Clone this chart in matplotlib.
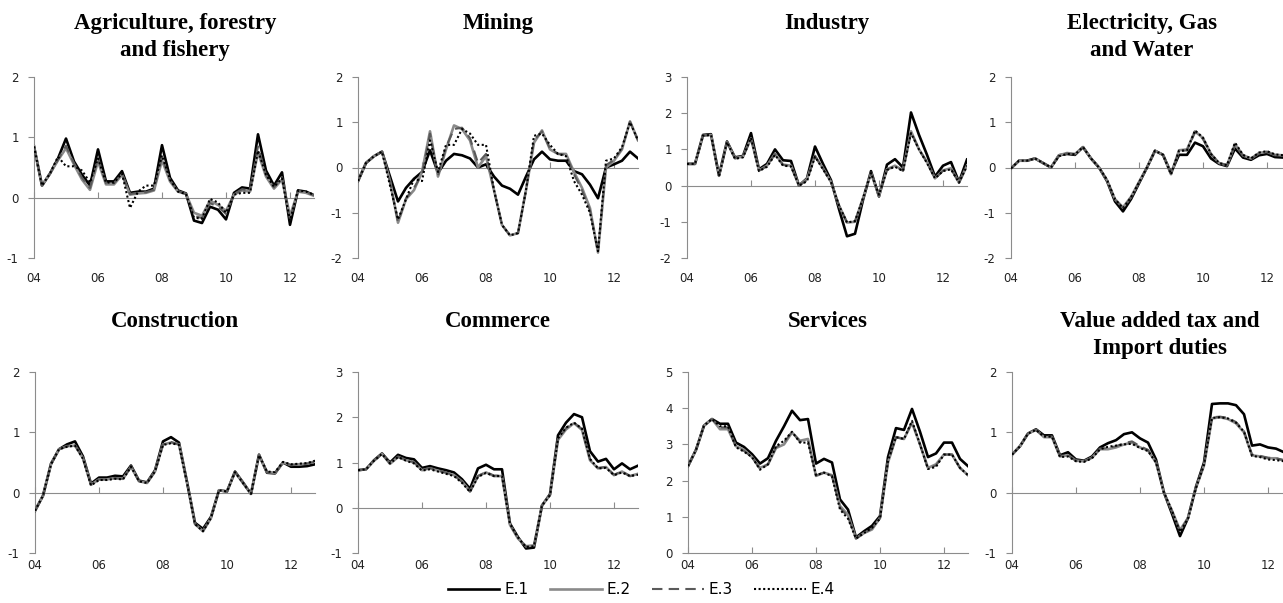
# -*- coding: utf-8 -*-

import numpy as np
import matplotlib
matplotlib.use("Agg")
import matplotlib.pyplot as plt

plt.rcParams['axes.unicode_minus'] = False

# quarterly data 2004Q1 .. 2012Q4
quarters = np.arange(36)
tick_pos = [0, 8, 16, 24, 32]
tick_labels = ['04', '06', '08', '10', '12']
series_names = ['E.1', 'E.2', 'E.3', 'E.4']

agri_e1 = [0.85, 0.20, 0.40, 0.65, 0.98, 0.60, 0.38, 0.20, 0.80, 0.27, 0.27, 0.44, 0.08, 0.10, 0.10, 0.15, 0.87, 0.33,
           0.12, 0.07, -0.38, -0.42, -0.15, -0.20, -0.36, 0.08, 0.17, 0.15, 1.05, 0.45, 0.20, 0.42, -0.45, 0.12, 0.10, 0.04]
agri_e2 = [0.85, 0.20, 0.40, 0.62, 0.82, 0.55, 0.30, 0.13, 0.60, 0.22, 0.22, 0.38, 0.05, 0.07, 0.08, 0.12, 0.62, 0.27,
           0.10, 0.06, -0.25, -0.30, -0.05, -0.12, -0.22, 0.05, 0.12, 0.10, 0.75, 0.35, 0.15, 0.30, -0.30, 0.10, 0.08, 0.03]
agri_e3 = [0.85, 0.20, 0.40, 0.63, 0.86, 0.57, 0.33, 0.16, 0.66, 0.24, 0.24, 0.40, 0.06, 0.08, 0.09, 0.13, 0.68, 0.29,
           0.11, 0.06, -0.30, -0.34, -0.09, -0.15, -0.27, 0.06, 0.14, 0.12, 0.85, 0.38, 0.17, 0.34, -0.36, 0.11, 0.09, 0.04]
agri_e4 = [0.85, 0.20, 0.40, 0.68, 0.52, 0.52, 0.45, 0.25, 0.65, 0.25, 0.25, 0.40, -0.17, 0.10, 0.20, 0.20, 0.70, 0.30,
           0.10, 0.06, -0.33, -0.35, -0.02, -0.08, -0.25, 0.05, 0.08, 0.08, 0.78, 0.38, 0.18, 0.32, -0.38, 0.12, 0.10, 0.05]

mining_e1 = [-0.30, 0.10, 0.25, 0.35, -0.20, -0.75, -0.45, -0.25, -0.10, 0.38, -0.12, 0.15, 0.30, 0.27, 0.20, 0.00, 0.07, -0.20,
             -0.40, -0.47, -0.60, -0.20, 0.18, 0.35, 0.18, 0.15, 0.15, -0.08, -0.15, -0.38, -0.68, 0.00, 0.07, 0.15, 0.35, 0.20]
mining_e2 = [-0.30, 0.10, 0.25, 0.35, -0.30, -1.22, -0.70, -0.50, -0.10, 0.80, -0.20, 0.40, 0.93, 0.85, 0.60, 0.00, 0.25, -0.50,
             -1.27, -1.50, -1.45, -0.50, 0.55, 0.82, 0.40, 0.30, 0.30, -0.10, -0.45, -0.90, -1.88, 0.00, 0.15, 0.40, 1.02, 0.60]
mining_e3 = [-0.30, 0.10, 0.25, 0.35, -0.32, -1.20, -0.68, -0.45, -0.15, 0.75, -0.18, 0.45, 0.85, 0.88, 0.65, 0.10, 0.30, -0.50,
             -1.27, -1.50, -1.45, -0.50, 0.60, 0.80, 0.42, 0.30, 0.28, -0.15, -0.50, -0.95, -1.87, 0.05, 0.17, 0.42, 1.01, 0.60]
mining_e4 = [-0.30, 0.10, 0.25, 0.35, -0.40, -1.15, -0.70, -0.25, -0.30, 0.60, -0.10, 0.50, 0.50, 0.85, 0.75, 0.50, 0.50, -0.50,
             -1.27, -1.50, -1.45, -0.50, 0.70, 0.75, 0.50, 0.30, 0.25, -0.30, -0.60, -1.00, -1.85, 0.15, 0.20, 0.45, 1.00, 0.60]

industry_e1 = [0.60, 0.60, 1.40, 1.42, 0.28, 1.22, 0.78, 0.82, 1.45, 0.45, 0.60, 1.00, 0.70, 0.68, 0.00, 0.20, 1.08, 0.60,
               0.15, -0.65, -1.40, -1.33, -0.40, 0.40, -0.30, 0.58, 0.73, 0.50, 2.02, 1.40, 0.85, 0.25, 0.55, 0.65, 0.10, 0.72]
industry_e2 = [0.60, 0.60, 1.38, 1.40, 0.27, 1.20, 0.76, 0.80, 1.30, 0.42, 0.55, 0.88, 0.58, 0.55, 0.00, 0.18, 0.82, 0.48,
               0.10, -0.55, -1.02, -1.00, -0.35, 0.35, -0.28, 0.45, 0.55, 0.42, 1.50, 1.00, 0.65, 0.20, 0.42, 0.48, 0.08, 0.55]
industry_e3 = [0.60, 0.60, 1.38, 1.40, 0.27, 1.20, 0.75, 0.79, 1.31, 0.41, 0.54, 0.87, 0.57, 0.54, 0.00, 0.15, 0.81, 0.47,
               0.10, -0.55, -1.02, -0.99, -0.35, 0.35, -0.27, 0.44, 0.54, 0.41, 1.48, 1.00, 0.64, 0.20, 0.41, 0.47, 0.08, 0.55]
industry_e4 = [0.60, 0.60, 1.38, 1.40, 0.27, 1.20, 0.74, 0.78, 1.32, 0.40, 0.52, 0.85, 0.55, 0.53, 0.00, 0.12, 0.80, 0.45,
               0.10, -0.55, -1.02, -0.98, -0.35, 0.35, -0.25, 0.43, 0.52, 0.40, 1.45, 1.00, 0.62, 0.20, 0.40, 0.45, 0.08, 0.55]

elec_e1 = [-0.02, 0.15, 0.15, 0.20, 0.10, 0.00, 0.27, 0.30, 0.28, 0.45, 0.20, 0.00, -0.30, -0.75, -0.97, -0.70, -0.35, 0.00,
           0.37, 0.28, -0.12, 0.28, 0.28, 0.55, 0.47, 0.20, 0.08, 0.03, 0.42, 0.22, 0.17, 0.27, 0.30, 0.23, 0.22, 0.22]
elec_e2 = [-0.02, 0.15, 0.15, 0.20, 0.10, 0.00, 0.27, 0.32, 0.30, 0.45, 0.20, 0.00, -0.28, -0.70, -0.88, -0.65, -0.32, 0.00,
           0.37, 0.28, -0.15, 0.38, 0.40, 0.80, 0.65, 0.30, 0.10, 0.05, 0.52, 0.27, 0.20, 0.32, 0.35, 0.28, 0.27, 0.26]
elec_e3 = [-0.02, 0.15, 0.15, 0.20, 0.10, 0.00, 0.26, 0.31, 0.29, 0.45, 0.20, 0.00, -0.28, -0.71, -0.90, -0.66, -0.33, 0.00,
           0.37, 0.28, -0.14, 0.36, 0.38, 0.78, 0.63, 0.29, 0.10, 0.05, 0.50, 0.26, 0.19, 0.31, 0.34, 0.27, 0.26, 0.25]
elec_e4 = [-0.02, 0.15, 0.15, 0.20, 0.10, 0.00, 0.25, 0.30, 0.29, 0.45, 0.20, 0.00, -0.27, -0.70, -0.90, -0.66, -0.33, 0.00,
           0.37, 0.28, -0.15, 0.37, 0.38, 0.82, 0.66, 0.30, 0.10, 0.05, 0.55, 0.28, 0.20, 0.33, 0.36, 0.29, 0.27, 0.26]

constr_e1 = [-0.30, -0.05, 0.48, 0.72, 0.80, 0.85, 0.60, 0.15, 0.25, 0.25, 0.28, 0.27, 0.45, 0.20, 0.17, 0.37, 0.85, 0.92,
             0.83, 0.18, -0.50, -0.60, -0.40, 0.04, 0.02, 0.35, 0.17, -0.02, 0.63, 0.33, 0.32, 0.50, 0.43, 0.43, 0.44, 0.47]
constr_e2 = [-0.30, -0.05, 0.47, 0.72, 0.77, 0.78, 0.57, 0.13, 0.22, 0.22, 0.24, 0.23, 0.43, 0.19, 0.16, 0.35, 0.80, 0.83,
             0.80, 0.17, -0.52, -0.64, -0.42, 0.04, 0.02, 0.34, 0.16, -0.02, 0.62, 0.34, 0.33, 0.50, 0.46, 0.47, 0.48, 0.52]
constr_e3 = [-0.30, -0.05, 0.47, 0.72, 0.77, 0.79, 0.57, 0.13, 0.22, 0.22, 0.24, 0.23, 0.43, 0.19, 0.16, 0.35, 0.80, 0.84,
             0.80, 0.17, -0.52, -0.63, -0.42, 0.04, 0.02, 0.34, 0.16, -0.02, 0.62, 0.34, 0.33, 0.50, 0.46, 0.47, 0.48, 0.51]
constr_e4 = [-0.30, -0.05, 0.47, 0.72, 0.76, 0.78, 0.56, 0.12, 0.21, 0.21, 0.23, 0.22, 0.43, 0.19, 0.16, 0.35, 0.79, 0.82,
             0.79, 0.17, -0.52, -0.64, -0.42, 0.04, 0.02, 0.34, 0.16, -0.02, 0.62, 0.35, 0.34, 0.51, 0.47, 0.48, 0.49, 0.53]

commerce_e1 = [0.83, 0.85, 1.05, 1.20, 1.00, 1.17, 1.10, 1.07, 0.88, 0.92, 0.87, 0.83, 0.78, 0.63, 0.42, 0.87, 0.95, 0.85,
               0.85, -0.35, -0.65, -0.90, -0.88, 0.05, 0.30, 1.60, 1.88, 2.07, 2.00, 1.25, 1.02, 1.08, 0.85, 0.98, 0.85, 0.93]
commerce_e2 = [0.83, 0.85, 1.04, 1.19, 0.97, 1.12, 1.05, 1.00, 0.83, 0.87, 0.82, 0.77, 0.72, 0.58, 0.36, 0.70, 0.78, 0.70,
               0.70, -0.38, -0.68, -0.85, -0.83, 0.05, 0.28, 1.50, 1.73, 1.87, 1.72, 1.05, 0.87, 0.90, 0.72, 0.80, 0.70, 0.75]
commerce_e3 = [0.83, 0.85, 1.04, 1.19, 0.98, 1.13, 1.06, 1.01, 0.84, 0.88, 0.83, 0.78, 0.72, 0.57, 0.36, 0.70, 0.79, 0.71,
               0.71, -0.37, -0.67, -0.86, -0.84, 0.05, 0.28, 1.52, 1.76, 1.88, 1.74, 1.07, 0.88, 0.90, 0.73, 0.80, 0.70, 0.74]
commerce_e4 = [0.83, 0.85, 1.04, 1.19, 0.98, 1.12, 1.04, 0.98, 0.82, 0.85, 0.80, 0.75, 0.70, 0.55, 0.35, 0.68, 0.77, 0.70,
               0.70, -0.36, -0.66, -0.87, -0.85, 0.05, 0.28, 1.53, 1.77, 1.88, 1.75, 1.08, 0.87, 0.88, 0.72, 0.78, 0.70, 0.73]

services_e1 = [2.40, 2.85, 3.52, 3.70, 3.57, 3.57, 3.05, 2.93, 2.73, 2.47, 2.62, 3.10, 3.50, 3.93, 3.67, 3.70, 2.47, 2.60,
               2.50, 1.48, 1.20, 0.43, 0.60, 0.75, 1.02, 2.65, 3.45, 3.40, 3.98, 3.35, 2.65, 2.75, 3.05, 3.05, 2.60, 2.40]
services_e2 = [2.40, 2.85, 3.52, 3.70, 3.42, 3.42, 2.95, 2.85, 2.65, 2.35, 2.45, 2.90, 3.00, 3.33, 3.10, 3.15, 2.13, 2.22,
               2.15, 1.30, 1.05, 0.40, 0.55, 0.65, 0.97, 2.50, 3.20, 3.15, 3.60, 3.00, 2.35, 2.45, 2.72, 2.72, 2.35, 2.15]
services_e3 = [2.40, 2.85, 3.52, 3.70, 3.47, 3.47, 2.93, 2.82, 2.65, 2.32, 2.45, 2.92, 3.05, 3.35, 3.07, 3.10, 2.14, 2.22,
               2.13, 1.25, 1.00, 0.40, 0.55, 0.68, 0.96, 2.52, 3.20, 3.15, 3.62, 3.00, 2.33, 2.42, 2.72, 2.72, 2.35, 2.15]
services_e4 = [2.40, 2.85, 3.52, 3.70, 3.50, 3.50, 2.92, 2.80, 2.65, 2.30, 2.45, 2.95, 3.10, 3.35, 3.05, 3.05, 2.15, 2.22,
               2.12, 1.20, 0.95, 0.40, 0.55, 0.70, 0.95, 2.55, 3.20, 3.15, 3.65, 3.00, 2.32, 2.38, 2.72, 2.72, 2.35, 2.15]

vat_e1 = [0.63, 0.77, 0.98, 1.05, 0.95, 0.95, 0.62, 0.67, 0.55, 0.53, 0.60, 0.75, 0.82, 0.87, 0.97, 1.00, 0.90, 0.83,
          0.55, 0.00, -0.35, -0.72, -0.42, 0.10, 0.50, 1.47, 1.48, 1.48, 1.45, 1.30, 0.78, 0.80, 0.75, 0.73, 0.67, 0.68]
vat_e2 = [0.63, 0.77, 0.98, 1.04, 0.92, 0.92, 0.60, 0.62, 0.53, 0.52, 0.58, 0.72, 0.72, 0.75, 0.80, 0.83, 0.75, 0.70,
          0.50, 0.00, -0.30, -0.62, -0.42, 0.08, 0.45, 1.23, 1.25, 1.22, 1.15, 1.00, 0.62, 0.60, 0.57, 0.57, 0.53, 0.52]
vat_e3 = [0.63, 0.77, 0.98, 1.04, 0.93, 0.93, 0.61, 0.62, 0.53, 0.52, 0.58, 0.73, 0.74, 0.77, 0.82, 0.85, 0.77, 0.71,
          0.51, 0.00, -0.31, -0.64, -0.42, 0.08, 0.46, 1.25, 1.26, 1.24, 1.17, 1.02, 0.63, 0.61, 0.58, 0.57, 0.54, 0.53]
vat_e4 = [0.63, 0.77, 0.98, 1.04, 0.93, 0.93, 0.59, 0.60, 0.52, 0.51, 0.57, 0.72, 0.76, 0.78, 0.80, 0.81, 0.74, 0.69,
          0.50, 0.00, -0.30, -0.65, -0.43, 0.08, 0.46, 1.24, 1.25, 1.23, 1.16, 1.01, 0.61, 0.59, 0.55, 0.54, 0.52, 0.51]

titles = ['Agriculture, forestry\nand fishery', 'Mining', 'Industry', 'Electricity, Gas\nand Water',
          'Construction', 'Commerce', 'Services', 'Value added tax and\nImport duties']
panel_data = [
    [agri_e1, agri_e2, agri_e3, agri_e4],
    [mining_e1, mining_e2, mining_e3, mining_e4],
    [industry_e1, industry_e2, industry_e3, industry_e4],
    [elec_e1, elec_e2, elec_e3, elec_e4],
    [constr_e1, constr_e2, constr_e3, constr_e4],
    [commerce_e1, commerce_e2, commerce_e3, commerce_e4],
    [services_e1, services_e2, services_e3, services_e4],
    [vat_e1, vat_e2, vat_e3, vat_e4],
]
y_limits = [(-1, 2), (-2, 2), (-2, 3), (-2, 2), (-1, 2), (-1, 3), (0, 5), (-1, 2)]

# line styles for E.1 .. E.4
styles = [dict(color='black', lw=1.9, ls='-'),
          dict(color='#8a8a8a', lw=1.9, ls='-'),
          dict(color='#5a5a5a', lw=1.5, ls=(0, (5, 3))),
          dict(color='black', lw=1.5, ls=(0, (1, 1.2)))]

W, H = 1283, 603
AXIS_GREY = '#8c8c8c'

# axes boxes in pixels: left, top, right, bottom
boxes = [(34, 77, 314, 258), (358, 77, 638, 258), (687, 77, 967, 258), (1011, 77, 1291, 258),
         (35, 372, 315, 553), (358, 372, 638, 553), (688, 372, 968, 553), (1012, 372, 1292, 553)]
# title centres (the right column is cut by the figure edge)
title_x = [175, 498, 827, 1142, 175, 498, 828, 1160]


def make_axes(fig, box):
    l, t, r, b = box
    return fig.add_axes([l / W, 1 - b / H, (r - l) / W, (b - t) / H])


def draw_panel(ax, series, ylim, label_pad):
    for values, st in zip(series, styles):
        ax.plot(quarters, values, **st, zorder=3)
    ax.set_xlim(0, 35)
    ax.set_ylim(*ylim)
    ax.set_yticks(range(ylim[0], ylim[1] + 1))
    ax.spines['top'].set_visible(False)
    ax.spines['right'].set_visible(False)
    ax.spines['left'].set_color(AXIS_GREY)
    ax.spines['bottom'].set_color(AXIS_GREY)
    ax.spines['bottom'].set_position(('data', 0))
    ax.tick_params(axis='y', direction='out', length=4, color=AXIS_GREY,
                   labelsize=8.5, labelcolor='#222222', pad=7)
    ax.set_xticks(tick_pos)
    ax.tick_params(axis='x', direction='in', length=4, color=AXIS_GREY,
                   labelbottom=False)
    # category labels sit at the bottom of the plot area
    sec = ax.secondary_xaxis('bottom')
    sec.set_xticks(tick_pos)
    sec.set_xticklabels(tick_labels)
    sec.spines['bottom'].set_visible(False)
    sec.tick_params(length=0, labelsize=8.5, labelcolor='#222222', pad=label_pad)


fig = plt.figure(figsize=(W / 100, H / 100), dpi=100)

for i, (box, series, ylim, title) in enumerate(zip(boxes, panel_data, y_limits, titles)):
    ax = make_axes(fig, box)
    draw_panel(ax, series, ylim, 10 if i < 4 else 4)
    top_y = 13 if i < 4 else 311
    fig.text(title_x[i] / W, 1 - top_y / H, title, ha='center', va='top',
             fontsize=16.5, fontweight='bold', family='Liberation Serif',
             linespacing=1.35)

handles = [plt.Line2D([], [], **st) for st in styles]
fig.legend(handles, series_names, loc='center', bbox_to_anchor=(641 / W, 1 - 590 / H),
           ncol=4, frameon=False, fontsize=11, handlelength=3.4,
           handletextpad=0.3, columnspacing=1.4)

fig.savefig('out.png', dpi=100)
